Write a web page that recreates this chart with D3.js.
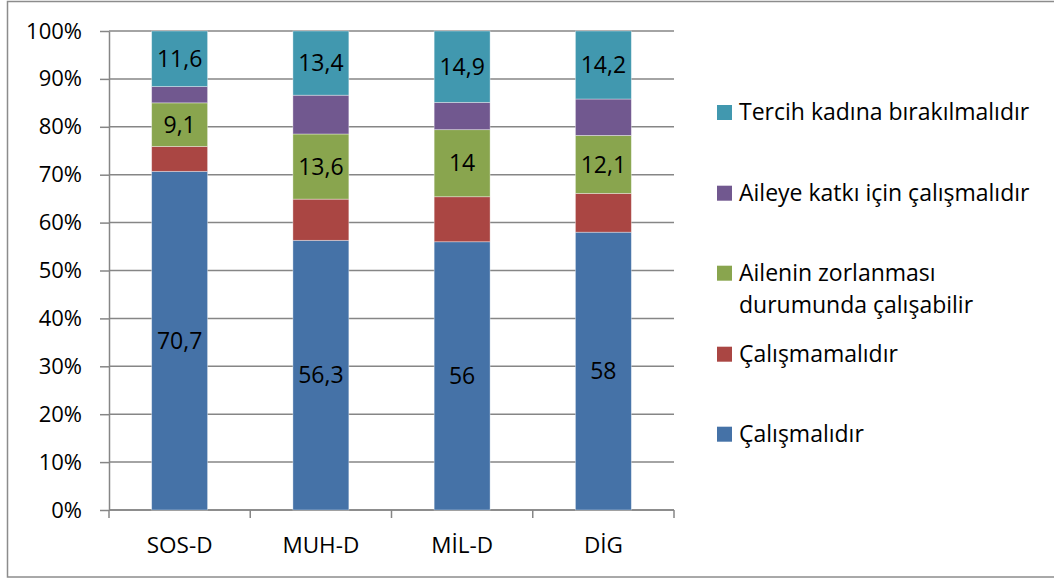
<!DOCTYPE html>
<html>
<head>
<meta charset="utf-8">
<script src="https://cdn.jsdelivr.net/npm/d3@7"></script>
<style>
  html, body { margin: 0; padding: 0; background: #fff; }
  svg { display: block; font-family: "Open Sans", sans-serif; }
</style>
</head>
<body>
<svg id="chart" width="1054" height="579"></svg>
<script>
// data
const categories = ["SOS-D", "MUH-D", "MİL-D", "DİG"];
const seriesNames = [
  "Çalışmalıdır",
  "Çalışmamalıdır",
  "Ailenin zorlanması durumunda çalışabilir",
  "Aileye katkı için çalışmalıdır",
  "Tercih kadına bırakılmalıdır"
];
const calismali   = [70.7, 56.3, 56, 58];
const calismamali = [5.2, 8.6, 9.4, 8.1];
const zorlanma    = [9.1, 13.6, 14, 12.1];
const katki       = [3.4, 8.1, 5.7, 7.6];
const tercih      = [11.6, 13.4, 14.9, 14.2];
const yTicks = [0, 10, 20, 30, 40, 50, 60, 70, 80, 90, 100];
const showLabel = [true, false, true, false, true];

const colors = ["#4572A7", "#AA4643", "#89A54E", "#71588F", "#4198AF"];
const legendLines = [
  ["Çalışmalıdır"],
  ["Çalışmamalıdır"],
  ["Ailenin zorlanması", "durumunda çalışabilir"],
  ["Aileye katkı için çalışmalıdır"],
  ["Tercih kadına bırakılmalıdır"]
];

const allSeries = [calismali, calismamali, zorlanma, katki, tercih];
const table = categories.map((c, i) => {
  const row = { cat: c };
  seriesNames.forEach((s, j) => { row[s] = allSeries[j][i]; });
  return row;
});

const svg = d3.select("#chart");
const axisColor = "#868686";

// outer frame
svg.append("rect")
  .attr("x", 7.5).attr("y", 1.5)
  .attr("width", 1060).attr("height", 575.5)
  .attr("fill", "#fff")
  .attr("stroke", "#8c8c8c")
  .attr("stroke-width", 1.5);

const x = d3.scaleBand()
  .domain(categories)
  .range([109, 674])
  .paddingInner(0.604)
  .paddingOuter(0.302);

const y = d3.scaleLinear().domain([0, 100]).range([510, 31]);

// gridlines
svg.append("g")
  .selectAll("line")
  .data(yTicks)
  .join("line")
  .attr("x1", 109).attr("x2", 674)
  .attr("y1", d => y(d)).attr("y2", d => y(d))
  .attr("stroke", axisColor)
  .attr("stroke-width", 1.5);

// y axis
const yAxis = svg.append("g")
  .attr("transform", "translate(109,0)")
  .call(d3.axisLeft(y).tickValues(yTicks).tickFormat(d => d + "%").tickSize(9).tickSizeOuter(0).tickPadding(18));
yAxis.selectAll("path, line").attr("stroke", axisColor).attr("stroke-width", 1.5);
yAxis.selectAll("text")
  .attr("font-family", "Open Sans")
  .attr("font-size", 22)
  .attr("fill", "#000");

// x axis
const step = x.step();
const bounds = [0, 1, 2, 3, 4].map(i => x.range()[0] + i * step);
const xAxis = svg.append("g");
xAxis.append("line")
  .attr("x1", 109).attr("x2", 674)
  .attr("y1", y(0)).attr("y2", y(0))
  .attr("stroke", axisColor).attr("stroke-width", 1.5);
xAxis.selectAll("line.tick")
  .data(bounds)
  .join("line")
  .attr("class", "tick")
  .attr("x1", d => d).attr("x2", d => d)
  .attr("y1", y(0)).attr("y2", y(0) + 8)
  .attr("stroke", axisColor).attr("stroke-width", 1.5);
xAxis.selectAll("text")
  .data(categories)
  .join("text")
  .attr("x", d => x(d) + x.bandwidth() / 2)
  .attr("y", 553)
  .attr("text-anchor", "middle")
  .attr("font-size", 22.5)
  .attr("fill", "#000")
  .text(d => d);

// stacked bars
const stack = d3.stack().keys(seriesNames);
const layers = stack(table);

const layerG = svg.append("g")
  .selectAll("g")
  .data(layers)
  .join("g")
  .attr("fill", (d, i) => colors[i]);

layerG.selectAll("rect")
  .data(d => d)
  .join("rect")
  .attr("x", d => x(d.data.cat))
  .attr("width", x.bandwidth())
  .attr("y", d => y(d[1]))
  .attr("height", d => y(d[0]) - y(d[1]))
  .attr("stroke", "rgba(255,255,255,0.45)")
  .attr("stroke-width", 0.8);

// data labels
layers.forEach((layer, i) => {
  if (!showLabel[i]) return;
  svg.append("g")
    .selectAll("text")
    .data(layer)
    .join("text")
    .attr("x", d => x(d.data.cat) + x.bandwidth() / 2)
    .attr("y", d => y((d[0] + d[1]) / 2))
    .attr("dy", "0.36em")
    .attr("text-anchor", "middle")
    .attr("font-size", 23)
    .attr("fill", "#000")
    .text(d => String(d[1] - d[0] === 0 ? 0 : +(d.data[layer.key])).replace(".", ","));
});

// legend (top to bottom is reverse of stack order)
const legendBase = [441.7, 361.7, 280.7, 200.7, 120];
const legend = svg.append("g");
seriesNames.forEach((s, i) => {
  const g = legend.append("g");
  g.append("rect")
    .attr("x", 717).attr("y", legendBase[i] - 15)
    .attr("width", 15).attr("height", 15)
    .attr("fill", colors[i]);
  legendLines[i].forEach((line, k) => {
    g.append("text")
      .attr("x", 739)
      .attr("y", legendBase[i] + k * 32)
      .attr("font-size", 23)
      .attr("fill", "#000")
      .text(line);
  });
});
</script>
</body>
</html>
